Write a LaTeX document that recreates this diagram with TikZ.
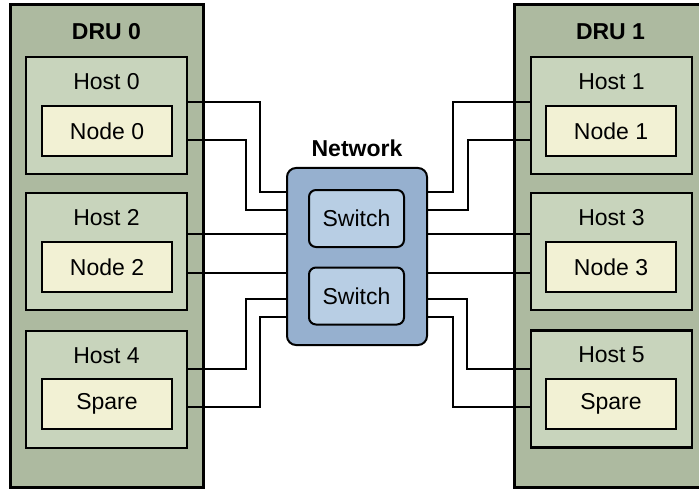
\documentclass[tikz,border=0pt]{standalone}
\usepackage{fontspec}
\setmainfont{Liberation Sans}
\definecolor{druC}{RGB}{173,186,160}
\definecolor{hostC}{RGB}{200,212,188}
\definecolor{nodeC}{RGB}{242,241,212}
\definecolor{netC}{RGB}{150,176,207}
\definecolor{swC}{RGB}{184,206,228}
\tikzset{
  dru/.style={draw=black, fill=druC, line width=3pt, inner sep=0pt},
  hostbox/.style={draw=black, fill=hostC, line width=2.5pt, inner sep=0pt, minimum width=161pt, minimum height=117pt},
  nodebox/.style={draw=black, fill=nodeC, line width=2.2pt, inner sep=0pt, minimum width=130pt, minimum height=50pt, font=\fontsize{23}{27}\selectfont},
  txt/.style={inner sep=0pt, font=\fontsize{23}{27}\selectfont},
  btxt/.style={inner sep=0pt, font=\fontsize{23}{27}\selectfont\bfseries},
  netbox/.style={draw=black, fill=netC, line width=2pt, rounded corners=9pt, inner sep=0pt, minimum width=140pt, minimum height=177pt},
  swbox/.style={draw=black, fill=swC, line width=2pt, rounded corners=7pt, inner sep=0pt, minimum width=95pt, minimum height=57pt, font=\fontsize{23}{27}\selectfont},
  wire/.style={draw=black, line width=1.8pt}
}
\begin{document}
\begin{tikzpicture}[x=1pt,y=-1pt]
\useasboundingbox (0,0) rectangle (699,492);
\clip (0,0) rectangle (699,492);
\fill[white] (0,0) rectangle (699,492);
% DRU containers
\node[dru, minimum width=193pt, minimum height=482pt] (dru0) at (106.5,246) {};
\node[dru, minimum width=193pt, minimum height=482pt] (dru1) at (610.5,246) {};
\node[btxt] (dru0t) at (106.5,32) {DRU 0};
\node[btxt] (dru1t) at (610.5,32) {DRU 1};
% left hosts
\node[hostbox] (h0) at (106.5,115.5) {};
\node[hostbox] (h2) at (106.5,251.5) {};
\node[hostbox] (h4) at (106.5,389.5) {};
\node[txt] (h0t) at (106.5,82) {Host 0};
\node[txt] (h2t) at (106.5,218) {Host 2};
\node[txt] (h4t) at (106.5,356) {Host 4};
\node[nodebox] (n0) at (107,131) {Node 0};
\node[nodebox] (n2) at (107,267) {Node 2};
\node[nodebox] (s4) at (107,404) {Spare};
% right hosts
\node[hostbox] (h1) at (611.5,115.5) {};
\node[hostbox] (h3) at (611.5,251.5) {};
\node[hostbox] (h5) at (611.5,389) {};
\node[txt] (h1t) at (611.5,82) {Host 1};
\node[txt] (h3t) at (611.5,218) {Host 3};
\node[txt] (h5t) at (611.5,355) {Host 5};
\node[nodebox] (n1) at (611,131) {Node 1};
\node[nodebox] (n3) at (611,267) {Node 3};
\node[nodebox] (s5) at (611,404) {Spare};
% network
\node[netbox] (net) at (357,256.5) {};
\node[btxt] (nett) at (357,148) {Network};
\node[swbox] (sw1) at (356.5,218.5) {Switch};
\node[swbox] (sw2) at (356.5,296) {Switch};
% left wires
\draw[wire] (h0.east |- 0,102) -| (260,192) -- (net.west |- 0,192);
\draw[wire] (h0.east |- 0,140) -| (246,210) -- (net.west |- 0,210);
\draw[wire] (h2.east |- 0,234) -- (net.west |- 0,234);
\draw[wire] (h2.east |- 0,273) -- (net.west |- 0,273);
\draw[wire] (h4.east |- 0,369) -| (246,299) -- (net.west |- 0,299);
\draw[wire] (h4.east |- 0,407) -| (260,317) -- (net.west |- 0,317);
% right wires
\draw[wire] (h1.west |- 0,102) -| (453,192) -- (net.east |- 0,192);
\draw[wire] (h1.west |- 0,140) -| (468,210) -- (net.east |- 0,210);
\draw[wire] (h3.west |- 0,234) -- (net.east |- 0,234);
\draw[wire] (h3.west |- 0,273) -- (net.east |- 0,273);
\draw[wire] (h5.west |- 0,369) -| (467,299) -- (net.east |- 0,299);
\draw[wire] (h5.west |- 0,407) -| (453,317) -- (net.east |- 0,317);
\end{tikzpicture}
\end{document}
